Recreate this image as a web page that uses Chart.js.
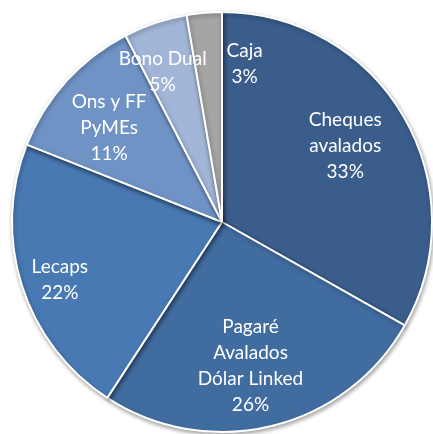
<!DOCTYPE html>
<html>
<head>
<meta charset="utf-8">
<script src="https://cdn.jsdelivr.net/npm/chart.js@4.4.0/dist/chart.umd.min.js"></script>
<style>
  html, body { margin: 0; padding: 0; background: #ffffff; }
  #wrap { width: 433px; height: 434px; }
</style>
</head>
<body>
<div id="wrap"><canvas id="chartPie"></canvas></div>
<script>
// datos (porcentaje de cartera)
let categorias = ['Cheques avalados', 'Pagaré Avalados Dólar Linked', 'Lecaps', 'Ons y FF PyMEs', 'Bono Dual', 'Caja'];
let etiquetas = [['Cheques', 'avalados'], ['Pagaré', 'Avalados', 'Dólar Linked'], ['Lecaps'], ['Ons y FF', 'PyMEs'], ['Bono Dual'], ['Caja']];
let valores = [33.2, 26.0, 21.8, 11.4, 4.9, 2.7];

let colores = ['#3a5d8c', '#416ca0', '#4879b3', '#6f93c5', '#a1b5d7', '#a5a5a5'];

// ubicación de cada etiqueta: fracción del radio y giro en grados respecto al centro del sector
let ubicacion = [
    { r: 0.69, giro: -1.5 },
    { r: 0.70, giro: 2.5 },
    { r: 0.82, giro: -2 },
    { r: 0.70, giro: -2.3 },
    { r: 0.77, giro: -3 },
    { r: 0.76, giro: 13 }
];

const etiquetasPlugin = {
    id: 'etiquetas',
    afterDatasetsDraw(chart) {
        const ctx = chart.ctx;
        const meta = chart.getDatasetMeta(0);
        const total = valores.reduce((a, b) => a + b, 0);
        ctx.save();
        ctx.font = '19px Lato';
        ctx.fillStyle = '#ffffff';
        ctx.textAlign = 'center';
        ctx.textBaseline = 'middle';
        meta.data.forEach((arc, i) => {
            const p = arc.getProps(['x', 'y', 'startAngle', 'endAngle', 'outerRadius'], true);
            const ang = (p.startAngle + p.endAngle) / 2 + ubicacion[i].giro * Math.PI / 180;
            const rad = p.outerRadius * ubicacion[i].r;
            const cx = p.x + Math.cos(ang) * rad;
            const cy = p.y + Math.sin(ang) * rad;
            const lineas = etiquetas[i].concat([Math.round(valores[i] / total * 100) + '%']);
            const alto = 26;
            lineas.forEach((t, j) => {
                ctx.fillText(t, cx, cy + (j - (lineas.length - 1) / 2) * alto);
            });
        });
        ctx.restore();
    }
};

const sombraPlugin = {
    id: 'sombra',
    beforeDatasetsDraw(chart) {
        chart.ctx.save();
        chart.ctx.shadowColor = 'rgba(0,0,0,0.35)';
        chart.ctx.shadowBlur = 4;
        chart.ctx.shadowOffsetX = 1;
        chart.ctx.shadowOffsetY = 2;
    },
    afterDatasetsDraw(chart) {
        chart.ctx.restore();
    }
};

var ctxPie = document.getElementById('chartPie').getContext('2d');
var chartPie = new Chart(ctxPie, {
    type: 'pie',
    data: {
        labels: categorias,
        datasets: [{
            data: valores,
            backgroundColor: colores,
            borderColor: '#ffffff',
            borderWidth: 2
        }]
    },
    options: {
        responsive: true,
        maintainAspectRatio: false,
        animation: false,
        layout: {
            padding: { left: 11, right: 0, top: 11, bottom: 1 }
        },
        plugins: {
            legend: { display: false },
            tooltip: { enabled: false }
        }
    },
    plugins: [sombraPlugin, etiquetasPlugin]
});
</script>
</body>
</html>
